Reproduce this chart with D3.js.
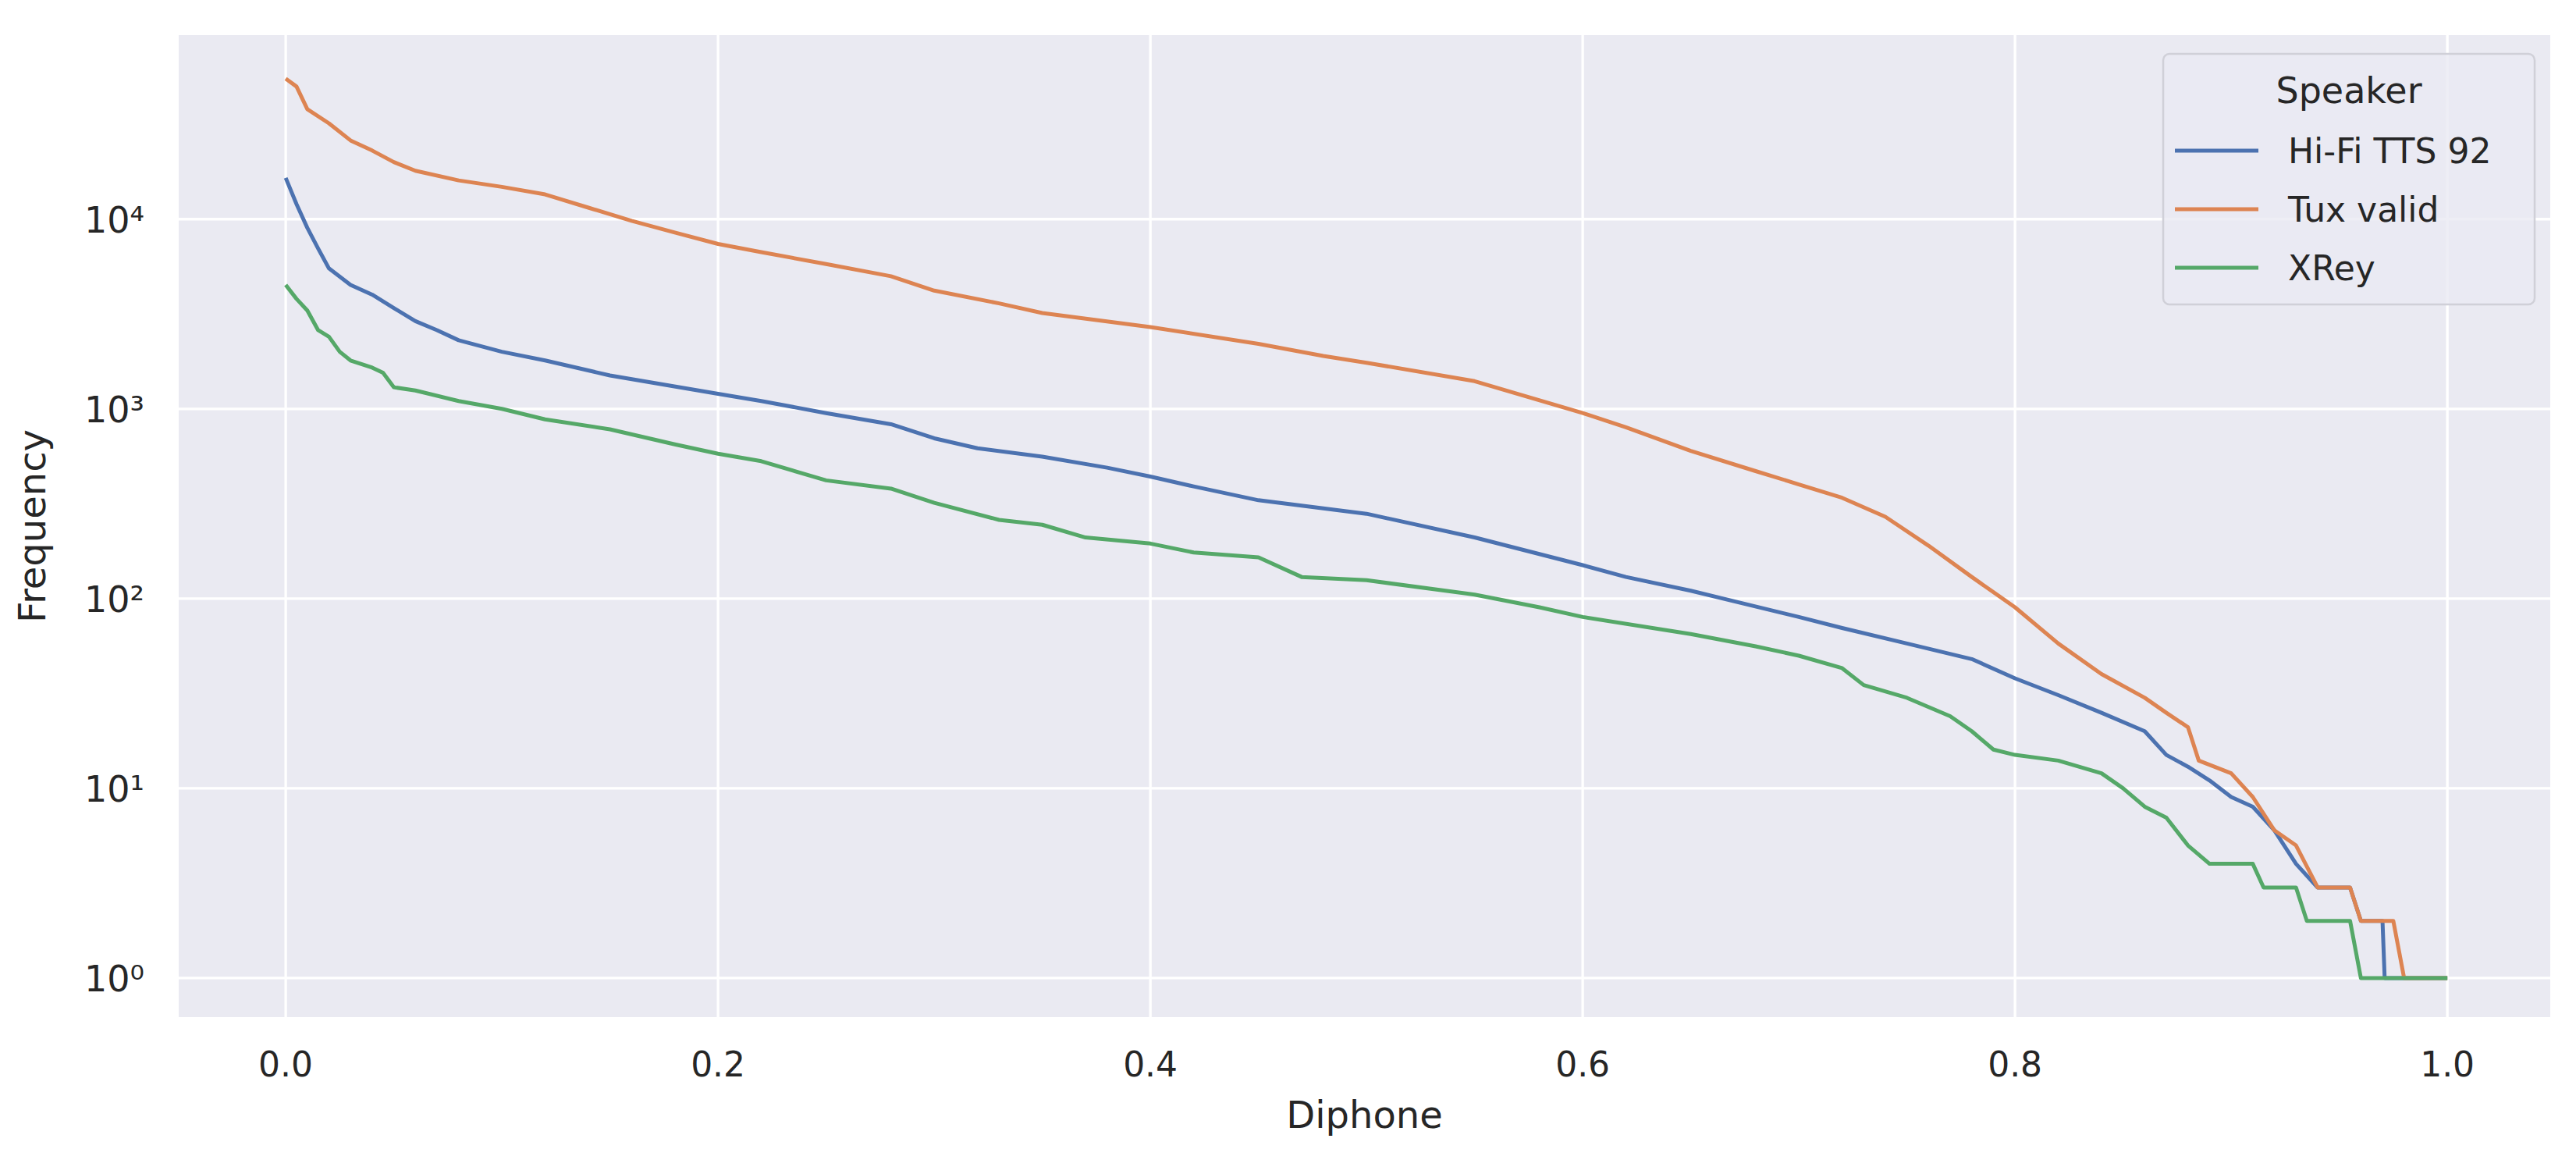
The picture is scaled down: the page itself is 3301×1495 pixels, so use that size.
<!DOCTYPE html>
<html><head><meta charset="utf-8">
<script src="https://cdn.jsdelivr.net/npm/d3@7"></script>
<style>body{margin:0;background:#fff}text{font-family:"DejaVu Sans",sans-serif;fill:#262626}</style>
</head><body><svg id="c" width="3301" height="1495"></svg>
<script>
const seriesNames = ["Hi-Fi TTS 92","Tux valid","XRey"];
const colors = ["#4c72b0","#dd8452","#55a868"];
const xTicks = [0,0.2,0.4,0.6,0.8,1.0];
const yTicks = [1,10,100,1000,10000];
const hifiX = [0,0.005,0.01,0.015,0.02,0.03,0.04,0.05,0.06,0.07,0.08,0.1,0.12,0.15,0.2,0.22,0.25,0.28,0.3,0.32,0.35,0.38,0.4,0.42,0.45,0.5,0.55,0.6,0.62,0.65,0.7,0.72,0.75,0.78,0.8,0.82,0.84,0.86,0.87,0.88,0.89,0.9,0.91,0.92,0.93,0.94,0.955,0.96,0.97,0.971,1.0];
const hifiY = [16500,12000,9000,7000,5500,4500,4000,3400,2900,2600,2300,2000,1800,1500,1200,1100,950,830,700,620,560,490,440,390,330,280,210,150,130,110,80,70,58,48,38,31,25,20,15,13,11,9,8,6,4,3,3,2,2,1,1];
const tuxX = [0,0.005,0.01,0.02,0.03,0.04,0.05,0.06,0.08,0.1,0.12,0.14,0.16,0.18,0.2,0.22,0.25,0.28,0.3,0.33,0.35,0.4,0.45,0.48,0.5,0.55,0.6,0.62,0.65,0.68,0.7,0.72,0.74,0.76,0.78,0.8,0.82,0.84,0.86,0.87,0.88,0.885,0.9,0.91,0.92,0.93,0.94,0.955,0.96,0.975,0.98,1.0];
const tuxY = [55000,50000,38000,32000,26000,23000,20000,18000,16000,14800,13500,11500,9800,8500,7400,6700,5800,5000,4200,3600,3200,2700,2200,1900,1750,1400,950,800,600,470,400,340,270,190,130,90,58,40,30,25,21,14,12,9,6,5,3,3,2,2,1,1];
const xreyX = [0,0.005,0.01,0.015,0.02,0.025,0.03,0.04,0.045,0.05,0.06,0.08,0.1,0.12,0.15,0.18,0.2,0.22,0.25,0.28,0.3,0.33,0.35,0.37,0.4,0.42,0.45,0.47,0.5,0.55,0.58,0.6,0.65,0.68,0.7,0.72,0.73,0.75,0.77,0.78,0.79,0.8,0.82,0.84,0.85,0.86,0.87,0.88,0.89,0.91,0.915,0.93,0.935,0.955,0.96,1.0];
const xreyY = [4500,3800,3300,2600,2400,2000,1800,1650,1550,1300,1250,1100,1000,880,780,650,580,530,420,380,320,260,245,210,195,175,165,130,125,105,90,80,65,56,50,43,35,30,24,20,16,15,14,12,10,8,7,5,4,4,3,3,2,2,1,1];
const data = [[hifiX,hifiY],[tuxX,tuxY],[xreyX,xreyY]];

const L=229,R=3268,T=45,B=1303;
const x = d3.scaleLinear().domain([-0.0495,1.0476]).range([L,R]);
const y = d3.scaleLog().domain([Math.pow(10,-0.206),Math.pow(10,4.97)]).range([B,T]);
const svg = d3.select("#c");
svg.append("rect").attr("x",L).attr("y",T).attr("width",R-L).attr("height",B-T).attr("fill","#eaeaf2");
const g = svg.append("g");
g.selectAll(".gx").data(xTicks).join("line").attr("x1",d=>x(d)).attr("x2",d=>x(d)).attr("y1",T).attr("y2",B).attr("stroke","#fff").attr("stroke-width",3.3);
g.selectAll(".gy").data(yTicks).join("line").attr("y1",d=>y(d)).attr("y2",d=>y(d)).attr("x1",L).attr("x2",R).attr("stroke","#fff").attr("stroke-width",3.3);
const sup = ["⁰","¹","²","³","⁴"];
svg.selectAll(".xt").data(xTicks).join("text").attr("x",d=>x(d)).attr("y",B+76).attr("text-anchor","middle").attr("font-size",44).text(d=>d.toFixed(1));
svg.selectAll(".yt").data(yTicks).join("text").attr("x",L-44).attr("y",d=>y(d)+17).attr("text-anchor","end").attr("font-size",46).text(d=>"10"+sup[Math.round(Math.log10(d))]);
svg.append("text").attr("x",(L+R)/2).attr("y",1445).attr("text-anchor","middle").attr("font-size",48).text("Diphone");
svg.append("text").attr("transform",`translate(58,${(T+B)/2}) rotate(-90)`).attr("text-anchor","middle").attr("font-size",48).text("Frequency");
const line = d3.line().x(d=>x(d[0])).y(d=>y(d[1]));
data.forEach((s,i)=>{
  const pts = s[0].map((v,j)=>[v,s[1][j]]);
  svg.append("path").attr("d",line(pts)).attr("fill","none").attr("stroke",colors[i]).attr("stroke-width",5).attr("stroke-linejoin","round");
});
const lg = svg.append("g");
lg.append("rect").attr("x",2772).attr("y",69).attr("width",476).attr("height",321).attr("rx",8).attr("fill","#eaeaf2").attr("fill-opacity",0.8).attr("stroke","#d0d0d8").attr("stroke-width",2.5);
lg.append("text").attr("x",3010).attr("y",132).attr("text-anchor","middle").attr("font-size",46).text("Speaker");
seriesNames.forEach((n,i)=>{
  const yy = 193+i*75;
  lg.append("line").attr("x1",2787).attr("x2",2894).attr("y1",yy).attr("y2",yy).attr("stroke",colors[i]).attr("stroke-width",5);
  lg.append("text").attr("x",2932).attr("y",yy+16).attr("font-size",44).text(n);
});
</script></body></html>
